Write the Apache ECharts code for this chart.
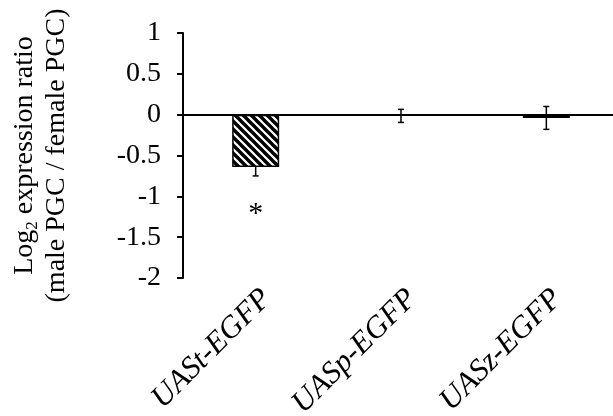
<!DOCTYPE html>
<html>
<head>
<meta charset="utf-8">
<script src="https://cdn.jsdelivr.net/npm/echarts@6/dist/echarts.min.js"></script>
<style>html,body{margin:0;padding:0;background:#fff}#c{width:613px;height:416px}</style>
</head>
<body>
<div id="c"></div>
<script>
const categories = ['UASt-EGFP', 'UASp-EGFP', 'UASz-EGFP'];
const ratioValues = [-0.64, -0.015, -0.04];
const errorValues = [0.11, 0.08, 0.14];
const significance = ['*', '', ''];
const yTicks = { min: -2, max: 1, interval: 0.5 };

const FONT = '"Liberation Serif", "Times New Roman", Times, serif';

function stripePattern() {
  const s = 8;
  const c = document.createElement('canvas');
  c.width = s; c.height = s;
  const ctx = c.getContext('2d');
  ctx.fillStyle = '#fff';
  ctx.fillRect(0, 0, s, s);
  ctx.strokeStyle = '#000';
  ctx.lineWidth = 3.4;
  for (const k of [-s, 0, s]) {
    ctx.beginPath();
    ctx.moveTo(-2, k - 2);
    ctx.lineTo(s + 2, k + s + 2);
    ctx.stroke();
  }
  return c;
}

const fills = [{ image: stripePattern(), repeat: 'repeat' }, '#000', '#000'];

const chart = echarts.init(document.getElementById('c'), null, { renderer: 'canvas' });

chart.setOption({
  animation: false,
  backgroundColor: '#fff',
  grid: [
    { left: 183, top: 33, height: 245, width: 436, containLabel: false, outerBoundsMode: 'none' },
    { left: 194, top: 33, height: 245, width: 436, containLabel: false, outerBoundsMode: 'none' }
  ],
  xAxis: [
    {
      type: 'category', gridIndex: 0, data: categories,
      axisLine: { show: true, onZero: true, lineStyle: { color: '#000', width: 2 } },
      axisTick: { show: false },
      axisLabel: { show: false }
    },
    {
      type: 'category', gridIndex: 1, data: categories,
      axisLine: { show: false, onZero: false },
      axisTick: { show: false },
      axisLabel: {
        show: true, rotate: 45, margin: 16, interval: 0,
        fontFamily: FONT, fontSize: 31, fontStyle: 'italic', color: '#000'
      }
    }
  ],
  yAxis: [
    {
      type: 'value', gridIndex: 0, min: yTicks.min, max: yTicks.max, interval: yTicks.interval,
      axisLine: { show: true, lineStyle: { color: '#000', width: 2 } },
      axisTick: { show: true, length: 6, lineStyle: { color: '#000', width: 2 } },
      splitLine: { show: false },
      axisLabel: { margin: 22, fontFamily: FONT, fontSize: 28, color: '#000' },
      name: '{t|Log}{s|2}{t| expression ratio}\n{t|(male PGC / female PGC)}',
      nameLocation: 'middle',
      nameGap: 110,
      nameTextStyle: {
        fontFamily: FONT, fontSize: 28, color: '#000', lineHeight: 32,
        rich: {
          t: { fontFamily: FONT, fontSize: 28, color: '#000', lineHeight: 32 },
          s: { fontFamily: FONT, fontSize: 17, color: '#000', lineHeight: 14, verticalAlign: 'bottom' }
        }
      }
    },
    {
      type: 'value', gridIndex: 1, min: yTicks.min, max: yTicks.max, show: false
    }
  ],
  series: [
    {
      type: 'bar', xAxisIndex: 0, yAxisIndex: 0, barWidth: 47, z: 2,
      data: ratioValues.map((v, i) => ({
        value: v,
        itemStyle: { color: fills[i], borderColor: '#000', borderWidth: 1.5 }
      }))
    },
    {
      type: 'custom', xAxisIndex: 0, yAxisIndex: 0, z: 3,
      data: ratioValues.map((v, i) => [i, v, errorValues[i]]),
      renderItem: function (params, api) {
        const i = api.value(0), v = api.value(1), e = api.value(2);
        const pMid = api.coord([i, v]);
        const pLow = api.coord([i, v - e]);
        const pHigh = api.coord([i, v + e]);
        const zero = api.coord([i, 0]);
        const cap = 3;
        const st = { stroke: '#000', lineWidth: 1.5 };
        const children = [
          { type: 'line', shape: { x1: pMid[0], y1: pMid[1], x2: pLow[0], y2: pLow[1] }, style: st },
          { type: 'line', shape: { x1: pLow[0] - cap, y1: pLow[1], x2: pLow[0] + cap, y2: pLow[1] }, style: st }
        ];
        if (pHigh[1] < zero[1]) {
          children.push({ type: 'line', shape: { x1: pMid[0], y1: pMid[1], x2: pHigh[0], y2: pHigh[1] }, style: st });
          children.push({ type: 'line', shape: { x1: pHigh[0] - cap, y1: pHigh[1], x2: pHigh[0] + cap, y2: pHigh[1] }, style: st });
        }
        const sig = significance[params.dataIndex];
        if (sig) {
          children.push({
            type: 'text',
            style: {
              text: sig, x: pLow[0], y: pLow[1] + 38,
              align: 'center', verticalAlign: 'middle',
              font: '30px ' + FONT, fill: '#000'
            }
          });
        }
        return { type: 'group', children: children };
      }
    }
  ]
});
</script>
</body>
</html>
